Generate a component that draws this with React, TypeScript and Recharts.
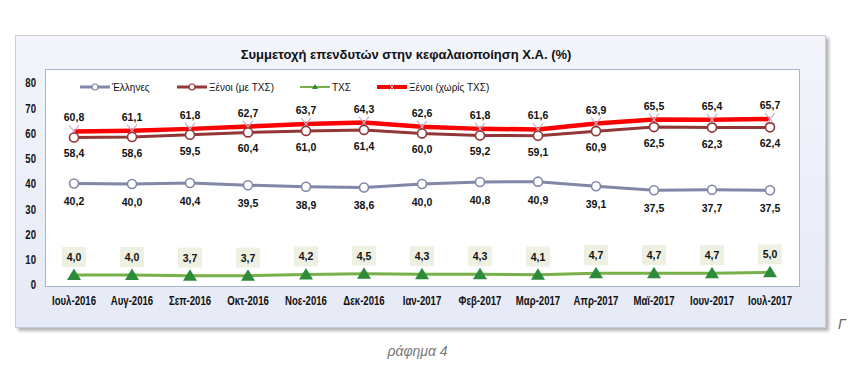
import React from "react";
import { LineChart, Line, XAxis, YAxis, LabelList } from "recharts";

const months = ["Ιουλ-2016", "Αυγ-2016", "Σεπ-2016", "Οκτ-2016", "Νοε-2016", "Δεκ-2016", "Ιαν-2017", "Φεβ-2017", "Μαρ-2017", "Απρ-2017", "Μαϊ-2017", "Ιουν-2017", "Ιουλ-2017"];
const ellines = [40.2, 40.0, 40.4, 39.5, 38.9, 38.6, 40.0, 40.8, 40.9, 39.1, 37.5, 37.7, 37.5];
const xenoiMe = [58.4, 58.6, 59.5, 60.4, 61.0, 61.4, 60.0, 59.2, 59.1, 60.9, 62.5, 62.3, 62.4];
const txs = [4.0, 4.0, 3.7, 3.7, 4.2, 4.5, 4.3, 4.3, 4.1, 4.7, 4.7, 4.7, 5.0];
const xenoiXoris = [60.8, 61.1, 61.8, 62.7, 63.7, 64.3, 62.6, 61.8, 61.6, 63.9, 65.5, 65.4, 65.7];
const yTicks = [0, 10, 20, 30, 40, 50, 60, 70, 80];

const title = "Συμμετοχή επενδυτών στην κεφαλαιοποίηση Χ.Α. (%)";
const legendNames = ["Έλληνες", "Ξένοι (με ΤΧΣ)", "ΤΧΣ", "Ξένοι (χωρίς ΤΧΣ)"];

const data = months.map((m, i) => ({
  m,
  ellines: ellines[i],
  xenoiMe: xenoiMe[i],
  txs: txs[i],
  xenoiXoris: xenoiXoris[i],
}));

const C_ELL = "#8087a8";
const C_ME = "#923636";
const C_TXS = "#78b04a";
const C_TXS_M = "#2e8b3a";
const C_XOR = "#ff0000";

const LFONT = "'Liberation Sans', Arial, sans-serif";

const fmt = (v: any) => Number(v).toFixed(1).replace(".", ",");

const circleDot = (color: string) => (p: any) => (
  <circle key={p.index} cx={p.cx} cy={p.cy} r={4.5} fill="#fff" stroke={color} strokeWidth={1.6} />
);
const triDot = (p: any) => (
  <path key={p.index} d={`M${p.cx},${p.cy - 6.5} L${p.cx + 7},${p.cy + 5} L${p.cx - 7},${p.cy + 5} Z`} fill={C_TXS_M} />
);
const xDot = (p: any) => (
  <path key={p.index} d={`M${p.cx - 5},${p.cy - 6} L${p.cx + 5},${p.cy + 6} M${p.cx + 5},${p.cy - 6} L${p.cx - 5},${p.cy + 6}`} stroke="#c4b2cc" strokeWidth={1.2} />
);

const labelAt = (dy: number) => (p: any) => (
  <text key={p.index} x={p.x} y={p.y + dy} textAnchor="middle" dominantBaseline="central" fontFamily={LFONT} fontWeight="bold" fontSize={10.5} fill="#111">
    {fmt(p.value)}
  </text>
);
const boxLabel = (p: any) => (
  <g key={p.index}>
    <rect x={p.x - 12} y={p.y - 28} width={24} height={20} fill="#eef0e1" />
    <text x={p.x} y={p.y - 18} textAnchor="middle" dominantBaseline="central" fontFamily={LFONT} fontWeight="bold" fontSize={10.5} fill="#111">
      {fmt(p.value)}
    </text>
  </g>
);

const XTick = (p: any) => (
  <g transform={`translate(${p.x},${p.y + 8}) scale(0.8,1)`}>
    <text x={0} y={0} textAnchor="middle" dominantBaseline="central" fontFamily={LFONT} fontWeight="bold" fontSize={12} fill="#111">
      {p.payload.value}
    </text>
  </g>
);
const YTick = (p: any) => (
  <g transform={`translate(36,${p.y}) scale(0.8,1)`}>
    <text x={0} y={0} textAnchor="end" dominantBaseline="central" fontFamily={LFONT} fontWeight="bold" fontSize={12} fill="#111">
      {p.payload.value}
    </text>
  </g>
);

function LegendSvg() {
  const items = [
    { x: 80, color: C_ELL, w: 3, mark: "circle" },
    { x: 177, color: C_ME, w: 3, mark: "circle" },
    { x: 300, color: C_TXS, w: 2, mark: "tri" },
    { x: 377, color: C_XOR, w: 4, mark: "x" },
  ];
  return (
    <svg width={865} height={375} style={{ position: "absolute", left: 0, top: 0, pointerEvents: "none" }}>
      {items.map((it, i) => {
        const cy = 87;
        const cx = it.x + 15;
        return (
          <g key={i}>
            <line x1={it.x} x2={it.x + 30} y1={cy} y2={cy} stroke={it.color} strokeWidth={it.w} />
            {it.mark === "circle" && <circle cx={cx} cy={cy} r={3} fill="#fff" stroke={it.color} strokeWidth={1.2} />}
            {it.mark === "tri" && <path d={`M${cx},${cy - 3} L${cx + 3},${cy + 2} L${cx - 3},${cy + 2} Z`} fill={C_TXS_M} />}
            {it.mark === "x" && <path d={`M${cx - 3},${cy - 3} L${cx + 3},${cy + 3} M${cx + 3},${cy - 3} L${cx - 3},${cy + 3}`} stroke="#c4b2cc" strokeWidth={1} />}
            <text x={it.x + 32} y={cy} dominantBaseline="central" fontFamily={LFONT} fontSize={10} fill="#111">
              {legendNames[i]}
            </text>
          </g>
        );
      })}
    </svg>
  );
}

export default function App() {
  return (
    <div style={{ position: "absolute", left: 0, top: 0, width: 865, height: 375, background: "#fff", overflow: "hidden" }}>
      <div
        style={{
          position: "absolute",
          left: 15,
          top: 35,
          width: 809,
          height: 291,
          background: "linear-gradient(180deg, #f3f5fb 0%, #e6eaf6 100%)",
          border: "1px solid #c9cdd9",
          boxShadow: "3px 3px 3px rgba(120,120,130,0.55)",
        }}
      />
      <div
        style={{
          position: "absolute",
          left: 45,
          top: 69,
          width: 753,
          height: 216,
          background: "#fff",
          border: "1px solid #a9b3c9",
        }}
      />
      <div
        style={{
          position: "absolute",
          left: 0,
          width: 812,
          top: 47,
          textAlign: "center",
          fontFamily: LFONT,
          fontWeight: "bold",
          fontSize: 13,
          color: "#111",
        }}
      >
        {title}
      </div>
      <div style={{ position: "absolute", left: 0, top: 0 }}>
        <LineChart width={865} height={375} data={data} margin={{ top: 69, right: 66, bottom: 60, left: 15 }}>
          <XAxis dataKey="m" axisLine={false} tickLine={false} tick={<XTick />} height={30} padding={{ left: 29, right: 29 }} interval={0} />
          <YAxis domain={[0, 85.5]} ticks={yTicks} axisLine={false} tickLine={false} tick={<YTick />} width={30} />
          <Line dataKey="txs" stroke={C_TXS} strokeWidth={3} dot={triDot} isAnimationActive={false}>
            <LabelList dataKey="txs" content={boxLabel} />
          </Line>
          <Line dataKey="ellines" stroke={C_ELL} strokeWidth={3} dot={circleDot(C_ELL)} isAnimationActive={false}>
            <LabelList dataKey="ellines" content={labelAt(18)} />
          </Line>
          <Line dataKey="xenoiXoris" stroke={C_XOR} strokeWidth={4.5} dot={xDot} isAnimationActive={false}>
            <LabelList dataKey="xenoiXoris" content={labelAt(-14)} />
          </Line>
          <Line dataKey="xenoiMe" stroke={C_ME} strokeWidth={3} dot={circleDot(C_ME)} isAnimationActive={false}>
            <LabelList dataKey="xenoiMe" content={labelAt(16)} />
          </Line>
        </LineChart>
      </div>
      <LegendSvg />
      <div style={{ position: "absolute", left: 838, top: 316, fontFamily: LFONT, fontStyle: "italic", fontSize: 14, color: "#666" }}>Γ</div>
      <div style={{ position: "absolute", left: 0, width: 835, top: 343, textAlign: "center", fontFamily: LFONT, fontStyle: "italic", fontSize: 14, color: "#777" }}>ράφημα 4</div>
    </div>
  );
}
